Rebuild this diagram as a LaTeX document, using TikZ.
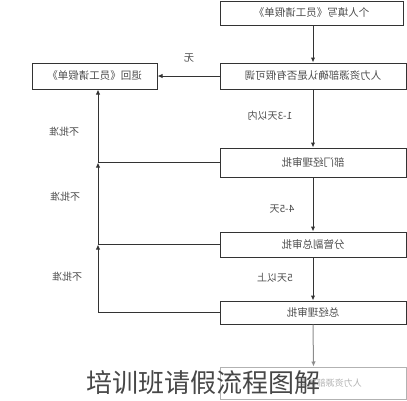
\documentclass[tikz,border=0pt]{standalone}
\usepackage{fontspec}
\usepackage{graphicx}
\newfontfamily\cjk{Noto Sans CJK SC}
\usetikzlibrary{calc,arrows.meta}
\newcommand{\FlowLineWidth}{1.0}
\newcommand{\mirr}[1]{\reflectbox{#1}}

\begin{document}
\begin{tikzpicture}[x=1pt, y=-1pt, >={Latex[length=5pt,width=4.5pt]},
    box/.style={draw=black!80, line width=\FlowLineWidth pt, minimum width=186pt, minimum height=26pt,
                inner sep=0pt, font=\cjk\fontsize{10.5}{12}\selectfont, text=black!70},
    lbl/.style={inner sep=0pt, font=\cjk\fontsize{10}{12}\selectfont, text=black!70},
    arr/.style={->, draw=black!80, line width=\FlowLineWidth pt}]
    \useasboundingbox (0,0) rectangle (407,400);

    % draw boxes
    \node[box, minimum width=183pt, minimum height=24pt] (b1) at (311.5,13) {\mirr{个人填写《员工请假单》}};
    \node[box] (b2) at (313,76) {\mirr{人力资源部确认是否有假可调}};
    \node[box, minimum width=125pt] (ret) at (94.5,76) {\mirr{退回《员工请假单》}};
    \node[box, minimum height=29pt] (b3) at (313,162.5) {\mirr{部门经理审批}};
    \node[box, minimum height=25pt] (b4) at (313,244.5) {\mirr{分管副总审批}};
    \node[box, minimum height=23pt] (b5) at (313,312.5) {\mirr{总经理审批}};
    \node[box, draw=black!30, minimum height=32pt] (b6) at (313.5,383) {};
    \node[lbl, anchor=east, text=black!30, font=\cjk\fontsize{9}{10}\selectfont] (b6text) at (362,383) {\mirr{人力资源部备案}};

    % draw main flow
    \draw[arr] (b2.north |- b1.south) -- (b2.north);
    \draw[arr] (b2.south) -- (b3.north);
    \draw[arr] (b3.south) -- (b4.north);
    \draw[arr] (b4.south) -- (b5.north);
    \draw[arr, draw=black!45] (b5.south) -- (b6.north);
    \draw[arr] (b2.west) -- (ret.east);

    % draw rejections
    \coordinate (rail) at (98,0);
    \draw[arr] (b3.west) -| (rail |- ret.south);
    \draw[arr] (b4.west) -| (rail |- b3.west);
    \draw[arr] (b5.west) -| (rail |- b4.west);

    % labels
    \node[lbl] (none) at (189,58) {\mirr{无}};
    \node[lbl] (days13) at (270,116) {\mirr{1-3天以内}};
    \node[lbl] (days45) at (282,209) {\mirr{4-5天}};
    \node[lbl] (days5) at (275,278) {\mirr{5天以上}};
    \node[lbl] (no1) at (64,132) {\mirr{不批准}};
    \node[lbl] (no2) at (65,197) {\mirr{不批准}};
    \node[lbl] (no3) at (67,277) {\mirr{不批准}};

    \node[inner sep=0pt, font=\cjk\fontsize{26}{26}\selectfont, text=black!72] (title) at (203,383) {培训班请假流程图解};
\end{tikzpicture}
\end{document}
